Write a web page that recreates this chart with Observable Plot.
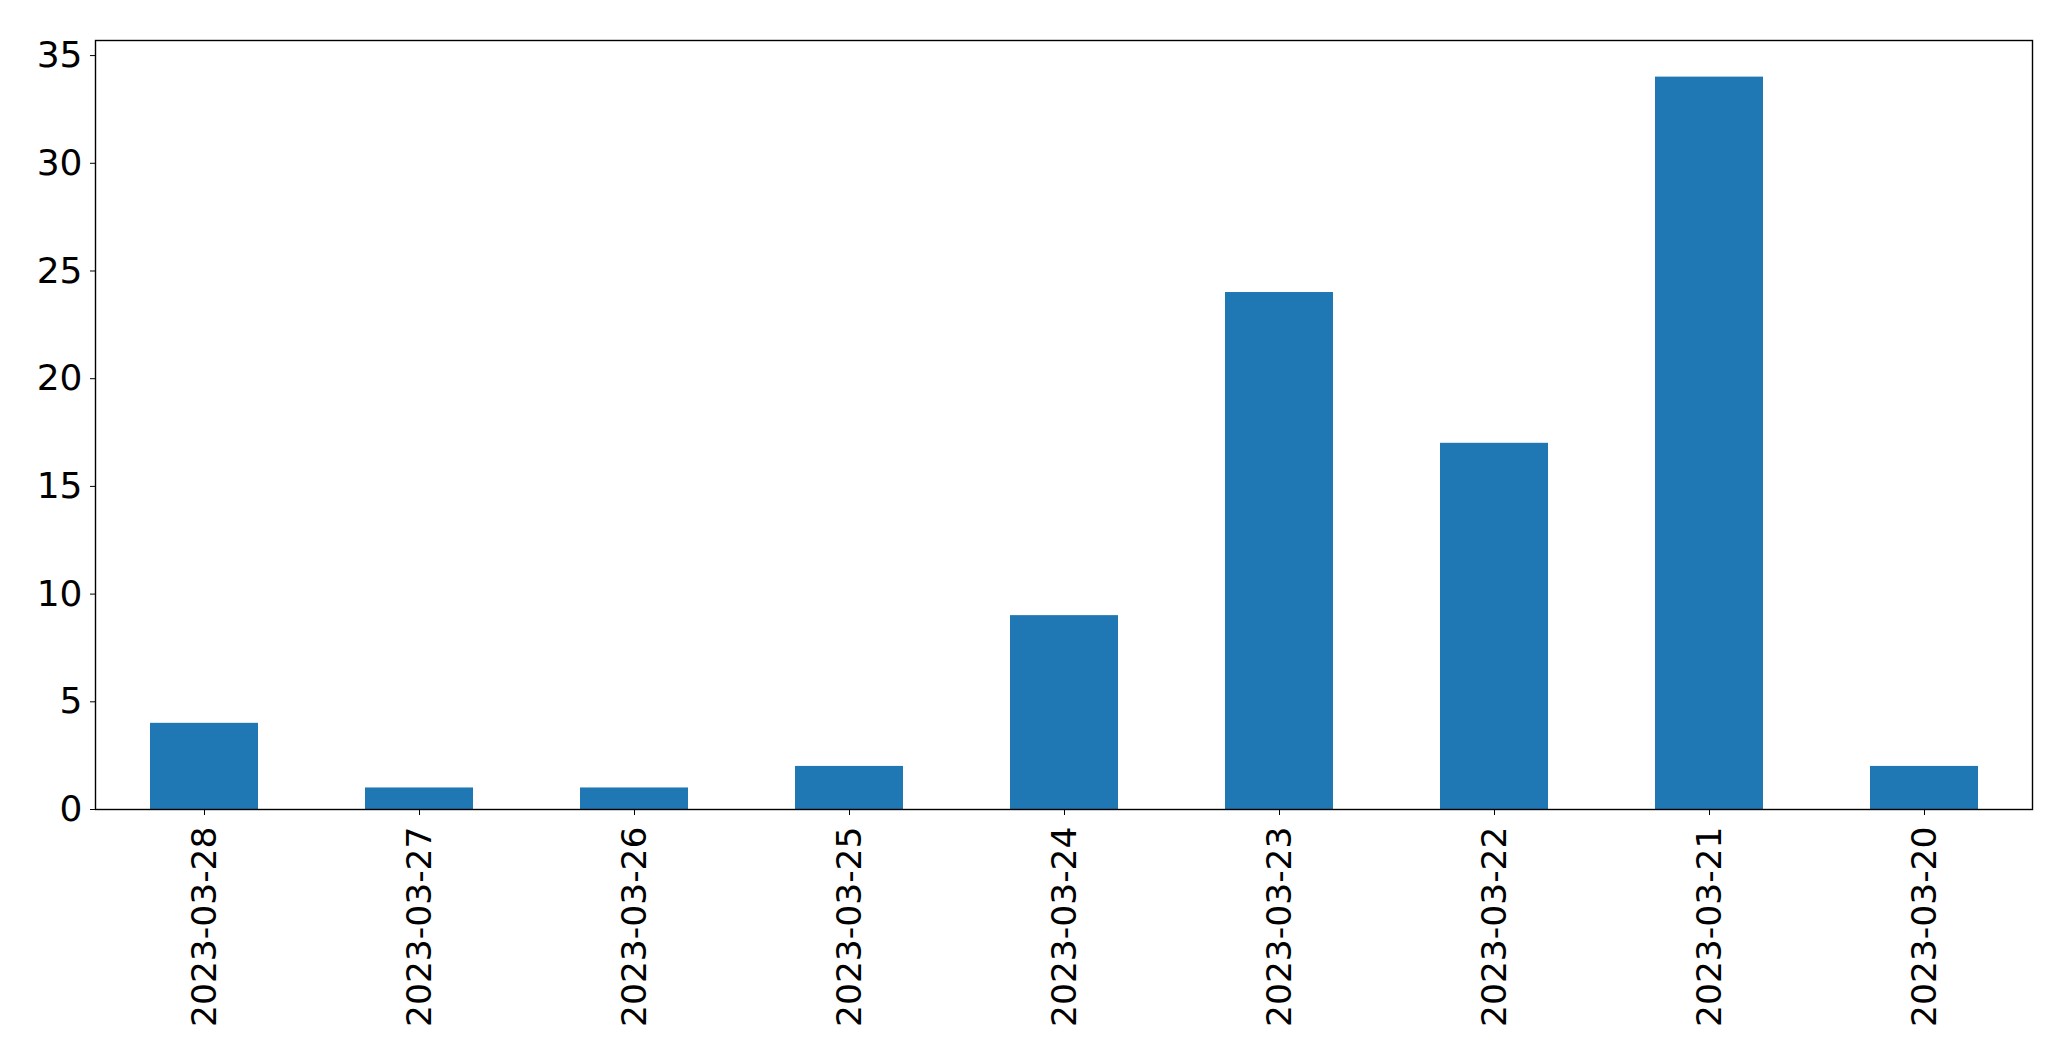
<!DOCTYPE html>
<html>
<head>
<meta charset="utf-8">
<script src="https://cdn.jsdelivr.net/npm/d3@7"></script>
<script src="https://cdn.jsdelivr.net/npm/@observablehq/plot@0.6"></script>
<style>
  html, body { margin: 0; padding: 0; background: #fff; }
  #chart svg { display: block; }
</style>
</head>
<body>
<div id="chart"></div>
<script>
const dates = ["2023-03-28", "2023-03-27", "2023-03-26", "2023-03-25", "2023-03-24", "2023-03-23", "2023-03-22", "2023-03-21", "2023-03-20"];
const counts = [4, 1, 1, 2, 9, 24, 17, 34, 2];
const yTicks = [0, 5, 10, 15, 20, 25, 30, 35];

const data = dates.map((d, i) => ({date: d, count: counts[i]}));

const chart = Plot.plot({
  width: 2071,
  height: 1061,
  marginLeft: 95,
  marginRight: 39,
  marginTop: 40,
  marginBottom: 252,
  style: {fontFamily: "DejaVu Sans", fontSize: "35px", color: "black", background: "white"},
  x: {domain: dates, paddingInner: 0.5, paddingOuter: 0.25, label: null},
  y: {domain: [0, 35.7], label: null},
  marks: [
    Plot.barY(data, {x: "date", y: "count", fill: "#1f77b4"}),
    Plot.axisY({ticks: yTicks, tickSize: 5, tickPadding: 8, label: null, fontSize: 36, tickFormat: d => String(d)}),
    Plot.axisX({tickSize: 6, tickPadding: 11, tickRotate: -90, label: null, fontSize: 34.5}),
    Plot.frame({stroke: "black", strokeWidth: 1.4})
  ]
});
document.getElementById("chart").appendChild(chart);
</script>
</body>
</html>
